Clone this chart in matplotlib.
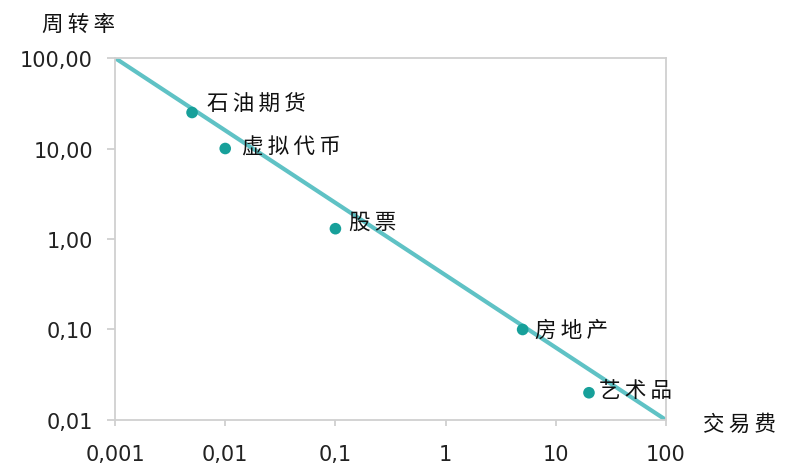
import matplotlib
matplotlib.use("Agg")
import matplotlib.pyplot as plt
from matplotlib.ticker import FixedLocator, FixedFormatter, NullLocator

plt.rcParams['font.family'] = ['Noto Sans CJK SC', 'DejaVu Sans']

names = ["石油期货", "虚拟代币", "股票", "房地产", "艺术品"]
fee = [0.005, 0.01, 0.1, 5, 20]
turnover = [25, 10, 1.3, 0.1, 0.02]
line_x = [0.001, 100]
line_y = [100, 0.01]
x_ticks = [0.001, 0.01, 0.1, 1, 10, 100]
x_labels = ["0,001", "0,01", "0,1", "1", "10", "100"]
y_ticks = [0.01, 0.1, 1, 10, 100]
y_labels = ["0,01", "0,10", "1,00", "10,00", "100,00"]
label_offsets = [(11, 6), (12, 1.5), (10, 5), (9, 0), (7, 2)]

SP = "\u2009"

def spaced(s):
    return SP.join(s)

fig = plt.figure(figsize=(7.89, 4.64), dpi=100)
ax = fig.add_axes([0.1458, 0.0927, 0.6983, 0.7801])
ax.set_xscale('log')
ax.set_yscale('log')
ax.plot(line_x, line_y, color='#5fc2c5', lw=3, solid_capstyle='butt', zorder=2)
ax.scatter(fee, turnover, s=70, color='#17a09a', zorder=3, edgecolors='none')
for n, x, y, off in zip(names, fee, turnover, label_offsets):
    ax.annotate(spaced(n), (x, y), xytext=off, textcoords='offset points',
                ha='left', va='center', fontsize=15.5, fontweight='medium',
                color='#111111', zorder=4)
ax.set_xlim(0.001, 100)
ax.set_ylim(0.01, 100)
ax.xaxis.set_major_locator(FixedLocator(x_ticks))
ax.xaxis.set_major_formatter(FixedFormatter(x_labels))
ax.xaxis.set_minor_locator(NullLocator())
ax.yaxis.set_major_locator(FixedLocator(y_ticks))
ax.yaxis.set_major_formatter(FixedFormatter(y_labels))
ax.yaxis.set_minor_locator(NullLocator())
for s in ax.spines.values():
    s.set_color('#d0d0d0')
    s.set_linewidth(1.3)
ax.tick_params(axis='x', direction='out', length=4.5, width=1.3, color='#d0d0d0', pad=13)
ax.tick_params(axis='y', direction='out', length=6, width=1.3, color='#d0d0d0', pad=10)
for lab in ax.get_xticklabels() + ax.get_yticklabels():
    lab.set_fontfamily('DejaVu Sans')
    lab.set_fontsize(15)
    lab.set_color('#222222')
fig.text(0.053, 0.946, spaced("周转率"), fontsize=15.5, fontweight='medium', ha='left', va='center', color='#111111')
fig.text(0.891, 0.084, spaced("交易费"), fontsize=15.5, fontweight='medium', ha='left', va='center', color='#111111')
fig.savefig("out.png", dpi=100)
